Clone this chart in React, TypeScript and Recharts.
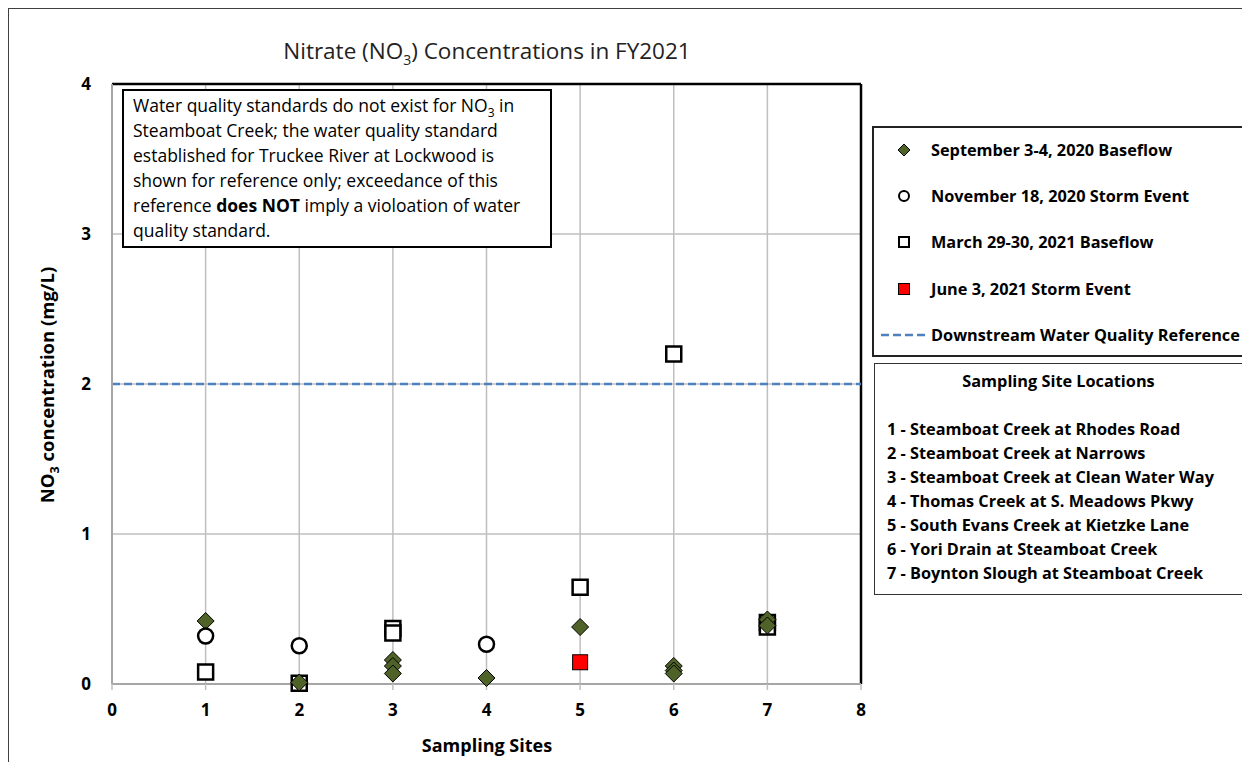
import React from 'react';
import { ScatterChart, Scatter, XAxis, YAxis, CartesianGrid, ReferenceLine } from 'recharts';

const xTicks = [0, 1, 2, 3, 4, 5, 6, 7, 8];
const yTicks = [0, 1, 2, 3, 4];

const sepSites = [1, 2, 3, 3, 3, 4, 5, 6, 6, 6, 7, 7];
const sepValues = [0.42, 0.01, 0.16, 0.12, 0.07, 0.04, 0.38, 0.12, 0.09, 0.07, 0.43, 0.39];

const novSites = [1, 2, 4];
const novValues = [0.32, 0.255, 0.265];

const marSites = [1, 2, 3, 3, 5, 6, 7, 7];
const marValues = [0.08, 0.005, 0.37, 0.34, 0.645, 2.2, 0.41, 0.38];

const junSites = [5];
const junValues = [0.145];

const referenceValue = 2;

const legendLabels = [
  'September 3-4, 2020 Baseflow',
  'November 18, 2020 Storm Event',
  'March 29-30, 2021 Baseflow',
  'June 3, 2021 Storm Event',
  'Downstream Water Quality Reference',
];

const siteNames = [
  '1 - Steamboat Creek at Rhodes Road',
  '2 - Steamboat Creek at Narrows',
  '3 - Steamboat Creek at Clean Water Way',
  '4 - Thomas Creek at S. Meadows Pkwy',
  '5 - South Evans Creek at Kietzke Lane',
  '6 - Yori Drain at Steamboat Creek',
  '7 - Boynton Slough at Steamboat Creek',
];

const toPoints = (xs: number[], ys: number[]) => xs.map((x, i) => ({ x, y: ys[i] }));

const sepData = toPoints(sepSites, sepValues);
const novData = toPoints(novSites, novValues);
const marData = toPoints(marSites, marValues);
const junData = toPoints(junSites, junValues);

const GREEN = '#4F6228';
const FONT = "'Open Sans', 'Noto Sans', sans-serif";

const Diamond = (p: any) => {
  const { cx, cy } = p;
  const r = 8.5;
  return <path d={`M${cx},${cy - r}L${cx + r},${cy}L${cx},${cy + r}L${cx - r},${cy}Z`} fill={GREEN} stroke="#000" strokeWidth={1} />;
};
const Circle = (p: any) => <circle cx={p.cx} cy={p.cy} r={7.5} fill="#fff" stroke="#000" strokeWidth={2.5} />;
const Square = (p: any) => <rect x={p.cx - 7.5} y={p.cy - 7.5} width={15} height={15} fill="#fff" stroke="#000" strokeWidth={2.5} />;
const RedSquare = (p: any) => <rect x={p.cx - 7.5} y={p.cy - 7.5} width={15} height={15} fill="#FF0000" stroke="#000" strokeWidth={1} />;

const legendMarkers = [
  <svg width="14" height="14"><path d="M7,1L13,7L7,13L1,7Z" fill={GREEN} stroke="#000" strokeWidth={1} /></svg>,
  <svg width="14" height="14"><circle cx="7" cy="7" r="5" fill="#fff" stroke="#000" strokeWidth={2} /></svg>,
  <svg width="14" height="14"><rect x="2" y="2" width="10" height="10" fill="#fff" stroke="#000" strokeWidth={2} /></svg>,
  <svg width="14" height="14"><rect x="1.5" y="1.5" width="11" height="11" fill="#FF0000" stroke="#000" strokeWidth={1} /></svg>,
  <svg width="48" height="6"><line x1="0" y1="3" x2="48" y2="3" stroke="#4F81BD" strokeWidth={2.5} strokeDasharray="8 4" /></svg>,
];

const legendY = [22, 68, 114, 161, 207];

export default function App() {
  return (
    <div style={{ position: 'relative', width: 1242, height: 754, fontFamily: FONT }}>
      <div style={{ position: 'absolute', left: 0, top: 0, width: 1237, height: 760, borderLeft: '1.5px solid #404040', borderTop: '1.5px solid #404040', borderRight: '1.5px solid #404040', boxSizing: 'border-box' }} />
      <ScatterChart width={1242} height={754} margin={{ top: 76, right: 389, bottom: 38, left: 44 }}>
        <CartesianGrid stroke="#BFBFBF" strokeWidth={1.5} />
        <XAxis
          type="number"
          dataKey="x"
          domain={[0, 8]}
          ticks={xTicks}
          interval={0}
          height={40}
          axisLine={{ stroke: '#A6A6A6', strokeWidth: 2 }}
          tickLine={{ stroke: '#BFBFBF', strokeWidth: 1.5 }}
          tickSize={6}
          tick={{ fill: '#000', fontSize: 17, fontWeight: 700, fontFamily: FONT }}
          tickMargin={14}
        />
        <YAxis
          type="number"
          dataKey="y"
          domain={[0, 4]}
          ticks={yTicks}
          interval={0}
          width={60}
          axisLine={{ stroke: '#A6A6A6', strokeWidth: 2 }}
          tickLine={false}
          tick={{ fill: '#000', fontSize: 17, fontWeight: 700, fontFamily: FONT }}
          tickMargin={15}
        />
        <ReferenceLine y={4} stroke="#000" strokeWidth={2.5} />
        <ReferenceLine x={8} stroke="#000" strokeWidth={2.5} />
        <ReferenceLine y={referenceValue} stroke="#4F81BD" strokeWidth={2.5} strokeDasharray="8 4" />
        <Scatter name={legendLabels[2]} data={marData} shape={Square} isAnimationActive={false} />
        <Scatter name={legendLabels[0]} data={sepData} shape={Diamond} isAnimationActive={false} />
        <Scatter name={legendLabels[1]} data={novData} shape={Circle} isAnimationActive={false} />
        <Scatter name={legendLabels[3]} data={junData} shape={RedSquare} isAnimationActive={false} />
      </ScatterChart>

      <div style={{ position: 'absolute', left: 179, top: 28, width: 600, textAlign: 'center', fontSize: 22.5, color: '#222', lineHeight: '30px' }}>
        Nitrate (NO<sub style={{ fontSize: 14, lineHeight: 0 }}>3</sub>) Concentrations in FY2021
      </div>

      <div style={{ position: 'absolute', left: 329, top: 724, width: 300, textAlign: 'center', fontSize: 18, fontWeight: 700, lineHeight: '26px' }}>
        Sampling Sites
      </div>

      <div style={{ position: 'absolute', left: 39, top: 377, width: 0, height: 0 }}>
        <div style={{ position: 'absolute', left: -200, top: -14, width: 400, textAlign: 'center', fontSize: 18.5, fontWeight: 700, lineHeight: '28px', transform: 'rotate(-90deg)', whiteSpace: 'nowrap' }}>
          NO<sub style={{ fontSize: 12.5, lineHeight: 0 }}>3</sub> concentration (mg/L)
        </div>
      </div>

      <div style={{ position: 'absolute', left: 114, top: 81, width: 426, height: 155, border: '2px solid #000', background: '#fff', boxSizing: 'content-box' }}>
        <div style={{ padding: '2px 0 0 9px', fontSize: 17.5, lineHeight: '25px', color: '#000', whiteSpace: 'nowrap' }}>
          Water quality standards do not exist for NO<sub style={{ fontSize: 12, lineHeight: 0 }}>3</sub> in<br />
          Steamboat Creek; the water quality standard<br />
          established for Truckee River at Lockwood is<br />
          shown for reference only; exceedance of this<br />
          reference <b>does NOT</b> imply a violoation of water<br />
          quality standard.
        </div>
      </div>

      <div style={{ position: 'absolute', left: 864, top: 118, width: 368, height: 227, border: '2px solid #222', background: '#fff' }}>
        {legendLabels.map((label, i) => (
          <div key={label} style={{ position: 'absolute', left: 0, top: legendY[i] - 12, height: 24, width: 368, display: 'flex', alignItems: 'center' }}>
            <div style={{ width: 55, display: 'flex', justifyContent: i === 4 ? 'flex-end' : 'center', paddingLeft: i === 4 ? 0 : 2 }}>
              {legendMarkers[i]}
            </div>
            <div style={{ marginLeft: i === 4 ? 2 : 0, fontSize: 16.3, fontWeight: 700, whiteSpace: 'nowrap' }}>{label}</div>
          </div>
        ))}
      </div>

      <div style={{ position: 'absolute', left: 866, top: 355, width: 367, height: 230, border: '1.5px solid #333', background: '#fff' }}>
        <div style={{ position: 'absolute', top: 6, width: 367, textAlign: 'center', fontSize: 16.3, fontWeight: 700 }}>Sampling Site Locations</div>
        {siteNames.map((s, i) => (
          <div key={s} style={{ position: 'absolute', left: 12, top: 65 + i * 24 - 12, fontSize: 16.3, fontWeight: 700, whiteSpace: 'nowrap', lineHeight: '24px' }}>{s}</div>
        ))}
      </div>
    </div>
  );
}
